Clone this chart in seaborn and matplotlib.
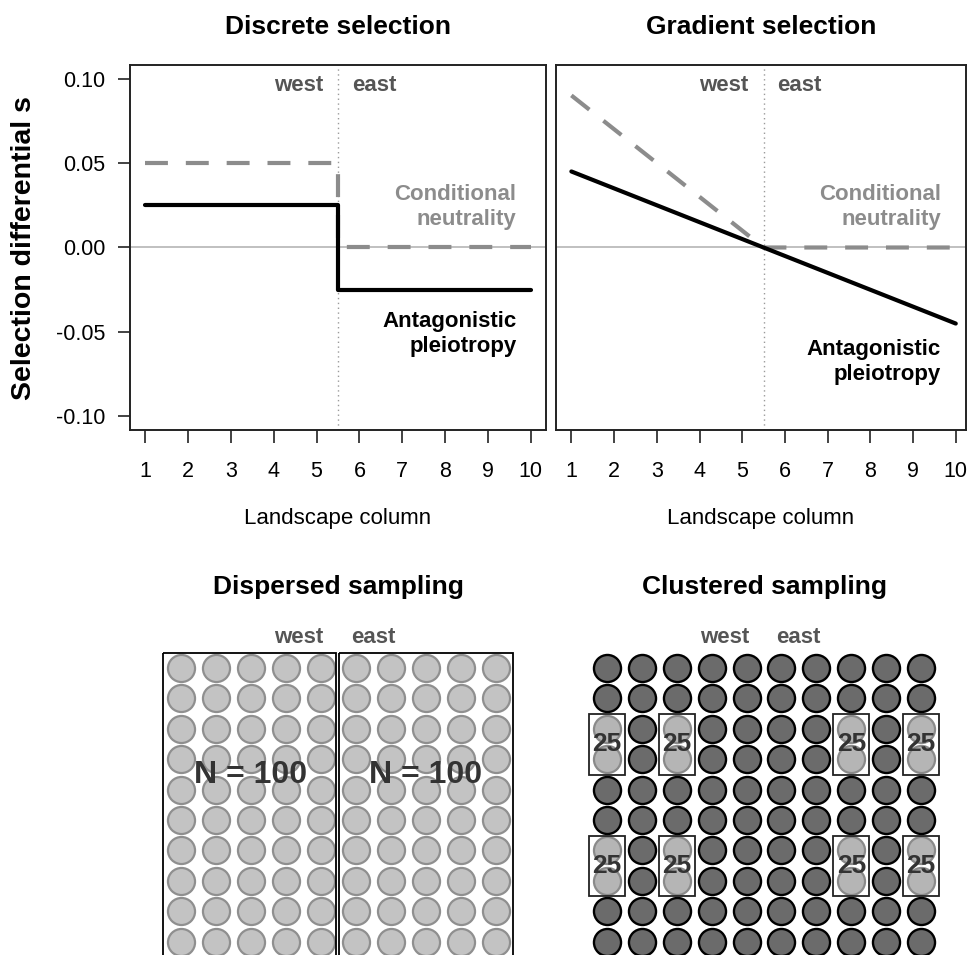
import itertools

import pandas as pd
import matplotlib.pyplot as plt
import seaborn as sns
from matplotlib.patches import Rectangle

# values
landscape_cols = list(range(1, 11))
s_ticks = [-0.10, -0.05, 0.00, 0.05, 0.10]

discrete_x = [1, 5.5, 5.5, 10]
discrete_neutral = [0.05, 0.05, 0.0, 0.0]
discrete_antag = [0.025, 0.025, -0.025, -0.025]

gradient_x = [1, 5.5, 10]
gradient_neutral = [0.09, 0.0, 0.0]
gradient_antag = [0.045, 0.0, -0.045]

grid_rows = list(range(1, 11))
cluster_cols = [1, 3, 8, 10]
cluster_rows = [3, 4, 7, 8]
cluster_start_rows = [3, 7]
dispersed_labels = ['N = 100', 'N = 100']
dispersed_label_cols = [3, 8]
cluster_label = '25'

GREY = '#8c8c8c'
DARK_TXT = '#555555'

sns.set_style('white')
plt.rcParams['font.family'] = ['Liberation Sans', 'DejaVu Sans']
plt.rcParams.update({'text.color': 'black', 'axes.labelcolor': 'black',
                     'xtick.color': 'black', 'ytick.color': 'black'})

W, H = 967, 955
fig = plt.figure(figsize=(W / 100, H / 100), dpi=100)


def px_axes(x0, y0, x1, y1):
    return fig.add_axes([x0 / W, 1 - y1 / H, (x1 - x0) / W, (y1 - y0) / H])


def selection_panel(ax, x, neutral, antag, title, xlim, ap_y, txt_x):
    df = pd.DataFrame({
        'column': x + x,
        's': neutral + antag,
        'model': ['neutral'] * len(x) + ['antagonistic'] * len(x),
    })
    ax.axhline(0, color='#b5b5b5', lw=1.2, zorder=0)
    ax.axvline(5.5, color='#9a9a9a', lw=1, ls=(0, (1, 2.5)), zorder=0)
    sns.lineplot(data=df, x='column', y='s', hue='model', style='model',
                 hue_order=['neutral', 'antagonistic'],
                 style_order=['neutral', 'antagonistic'],
                 palette={'neutral': GREY, 'antagonistic': 'black'},
                 dashes={'neutral': (5.5, 4.3), 'antagonistic': ''},
                 sort=False, estimator=None, linewidth=3, legend=False, ax=ax)
    ax.set_xlim(*xlim)
    ax.set_ylim(-0.108, 0.108)
    ax.set_xticks(landscape_cols)
    ax.set_yticks(s_ticks)
    ax.set_yticklabels([f'{v:.2f}' for v in s_ticks])
    for sp in ax.spines.values():
        sp.set_color('#222222')
        sp.set_linewidth(1.4)
    ax.tick_params(axis='x', bottom=True, direction='out', length=9, width=1.2,
                   color='#222222', pad=13, labelsize=15.5)
    ax.tick_params(axis='y', left=True, direction='out', length=9, width=1.2,
                   color='#222222', pad=9, labelsize=15.5)
    ax.set_title(title, fontsize=19, fontweight='bold', pad=22)
    ax.set_xlabel('Landscape column', fontsize=16)
    ax.xaxis.set_label_coords(0.5, -0.215)
    ax.set_ylabel('')
    ax.text(5.15, 0.0956, 'west', ha='right', va='center', color=DARK_TXT,
            fontsize=16, fontweight='bold')
    ax.text(5.82, 0.0956, 'east', ha='left', va='center', color=DARK_TXT,
            fontsize=16, fontweight='bold')
    ax.text(txt_x, 0.024, 'Conditional\nneutrality', ha='right', va='center',
            color=GREY, fontsize=16, fontweight='bold', linespacing=1.25)
    ax.text(txt_x, ap_y, 'Antagonistic\npleiotropy', ha='right', va='center',
            color='black', fontsize=16, fontweight='bold', linespacing=1.25)


ax_d = px_axes(130, 65, 546, 430)
ax_g = px_axes(556, 65, 966, 430)
selection_panel(ax_d, discrete_x, discrete_neutral, discrete_antag,
                'Discrete selection', (0.64, 10.36), -0.051, 9.67)
selection_panel(ax_g, gradient_x, gradient_neutral, gradient_antag,
                'Gradient selection', (0.64, 10.24), -0.0675, 9.65)
ax_g.tick_params(axis='y', left=False, labelleft=False)

fig.text(24 / W, 1 - 248 / H, 'Selection differential s', rotation=90,
         ha='center', va='center', fontsize=20.5, fontweight='bold')

# sampling grids
grid = pd.DataFrame(list(itertools.product(landscape_cols, grid_rows)),
                    columns=['column', 'row'])
grid['sampled'] = grid['column'].isin(cluster_cols) & grid['row'].isin(cluster_rows)

ax_ds = px_axes(146, 600, 531, 955)
ax_cs = px_axes(572, 600, 956, 955)


def grid_frame(ax, title):
    ax.set_xlim(0, 11)
    ax.set_ylim(10.44, -1.24)
    ax.axis('off')
    ax.set_title(title, fontsize=19, fontweight='bold', pad=4)
    ax.text(5.08, 0, 'west', ha='right', va='center', color=DARK_TXT,
            fontsize=16, fontweight='bold')
    ax.text(5.86, 0, 'east', ha='left', va='center', color=DARK_TXT,
            fontsize=16, fontweight='bold')


sns.scatterplot(data=grid, x='column', y='row', color='#c3c3c3',
                edgecolor='#8f8f8f', linewidth=1.6, s=380, legend=False, ax=ax_ds)
grid_frame(ax_ds, 'Dispersed sampling')
ax_ds.add_patch(Rectangle((0.49, 0.5), 4.94, 12, fill=False, ec='black', lw=1.3))
ax_ds.add_patch(Rectangle((5.52, 0.5), 4.97, 12, fill=False, ec='black', lw=1.3))
for c, lab in zip(dispersed_label_cols, dispersed_labels):
    ax_ds.text(c, 4.52, lab, ha='center', va='center', color='#333333',
               fontsize=23, fontweight='bold')

sns.scatterplot(data=grid[~grid['sampled']], x='column', y='row', color='#6b6b6b',
                edgecolor='black', linewidth=1.7, s=380, legend=False, ax=ax_cs)
sns.scatterplot(data=grid[grid['sampled']], x='column', y='row', color='#b5b5b5',
                edgecolor='#8a8a8a', linewidth=1.6, s=380, legend=False, ax=ax_cs)
grid_frame(ax_cs, 'Clustered sampling')
for c in cluster_cols:
    for r0 in cluster_start_rows:
        ax_cs.add_patch(Rectangle((c - 0.52, r0 - 0.49), 1.04, 2.0, fill=False,
                                  ec='#222222', lw=1.3))
        ax_cs.text(c, r0 + 0.5, cluster_label, ha='center', va='center',
                   color='#333333', fontsize=19, fontweight='bold')

fig.savefig('out.png', dpi=100)
